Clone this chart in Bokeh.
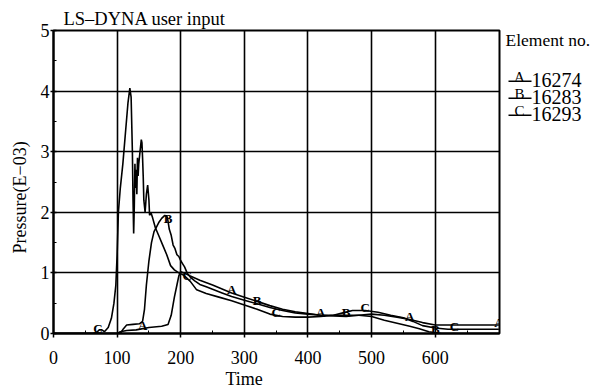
import numpy as np
from bokeh.plotting import figure
from bokeh.models import FixedTicker, Range1d, Title
from bokeh.layouts import row
from bokeh.core.properties import value
from bokeh.embed import file_html
from bokeh.resources import INLINE

# ---------------- data ----------------
x_ticks = [0, 100, 200, 300, 400, 500, 600]
y_ticks = [0, 1, 2, 3, 4, 5]

# Element A (16274) - latest rising curve
x_a = [0, 100, 105, 115, 130, 150, 170, 180, 185, 190, 194, 197, 200, 205, 215, 230, 250,
       280, 300, 320, 340, 360, 380, 400, 420, 440, 460, 480, 500, 520, 540, 560, 580, 600,
       650, 700]
y_a = [0, 0, 0.03, 0.05, 0.06, 0.1, 0.12, 0.15, 0.3, 0.6, 0.8, 0.95, 1.02, 1.0, 0.95, 0.88,
       0.8, 0.67, 0.6, 0.53, 0.46, 0.4, 0.36, 0.33, 0.3, 0.29, 0.28, 0.3, 0.32, 0.3, 0.27,
       0.23, 0.18, 0.14, 0.14, 0.14]

# Element B (16283) - middle curve
x_b = [0, 105, 110, 115, 125, 135, 140, 143, 146, 150, 154, 158, 162, 166, 170, 175, 179,
       182, 185, 188, 191, 194, 197, 200, 203, 206, 210, 215, 222, 230, 240, 250, 265, 280,
       300, 320, 340, 360, 380, 400, 420, 440, 460, 480, 500, 520, 540, 560, 575, 590, 610,
       650, 700]
y_b = [0, 0, 0.08, 0.14, 0.15, 0.16, 0.2, 0.4, 0.8, 1.2, 1.5, 1.68, 1.76, 1.84, 1.9, 1.95,
       1.92, 1.72, 1.62, 1.46, 1.4, 1.3, 1.27, 1.2, 1.15, 1.1, 1.0, 0.93, 0.87, 0.81, 0.77,
       0.73, 0.67, 0.61, 0.55, 0.49, 0.43, 0.38, 0.34, 0.32, 0.3, 0.3, 0.3, 0.3, 0.28, 0.22,
       0.17, 0.12, 0.08, 0.03, 0.0, 0.0, 0.0]

# Element C (16293) - earliest curve with the 4.1 peak
x_c = [0, 62, 68, 72, 76, 80, 86, 91, 95, 98, 100, 102, 105, 109, 113, 117, 120, 122, 124,
       125, 126, 127, 128, 129, 130, 131, 132, 133, 134, 136, 138, 139, 140, 141, 142, 144,
       146, 148, 150, 151, 153, 156, 160, 166, 172, 178, 184, 190, 197, 205, 215, 225, 240,
       260, 280, 300, 320, 340, 360, 380, 400, 420, 440, 455, 470, 490, 510, 530, 550, 565,
       580, 600, 620, 650, 700]
y_c = [0, 0, 0.02, 0.06, 0.06, 0.03, 0.1, 0.25, 0.5, 0.8, 1.3, 2.0, 2.4, 2.8, 3.3, 3.8,
       4.05, 3.9, 3.0, 2.2, 1.65, 2.1, 2.8, 2.4, 2.7, 2.3, 2.9, 2.6, 2.8, 3.0, 3.2, 3.15,
       2.9, 2.6, 2.2, 2.0, 2.3, 2.45, 2.2, 1.95, 2.0, 1.9, 1.75, 1.6, 1.45, 1.3, 1.12, 1.05,
       1.0, 0.96, 0.86, 0.72, 0.66, 0.6, 0.54, 0.47, 0.4, 0.32, 0.28, 0.27, 0.27, 0.28, 0.3,
       0.34, 0.38, 0.38, 0.35, 0.3, 0.26, 0.2, 0.13, 0.09, 0.07, 0.07, 0.07]

marks_a = [140, 280, 420, 560, 700]
marks_b = [180, 320, 460, 600]
marks_c = [70, 210, 350, 490, 630]

names = ["A", "B", "C"]
elements = ["16274", "16283", "16293"]
legend_title = "Element no."

# ---------------- main figure ----------------
SERIF = "Liberation Serif"
H = 388
TOP = 30
BOTTOM_PANEL = 54
p = figure(width=503, height=H, output_backend="svg", toolbar_location=None,
           title=None, x_range=Range1d(0, 701), y_range=Range1d(0, 5),
           min_border_left=53, min_border_right=4, min_border_top=TOP,
           min_border_bottom=BOTTOM_PANEL)
p.background_fill_color = "white"
p.border_fill_color = "white"
p.outline_line_color = "black"
p.outline_line_width = 2

for ax in (p.xaxis[0], p.yaxis[0]):
    ax.axis_line_color = "black"
    ax.axis_line_width = 2
    ax.major_tick_line_color = "black"
    ax.major_tick_line_width = 1.5
    ax.minor_tick_line_color = "black"
    ax.minor_tick_in = 3
    ax.minor_tick_out = 0
    ax.major_label_text_font = SERIF
    ax.major_label_text_font_size = "18px"
    ax.major_label_text_color = "black"

p.xaxis.ticker = FixedTicker(ticks=x_ticks, minor_ticks=[50, 150, 250, 350, 450, 550, 650])
p.yaxis.ticker = FixedTicker(ticks=y_ticks, minor_ticks=[0.5, 1.5, 2.5, 3.5, 4.5])
p.xaxis.major_tick_in = 0
p.xaxis.major_tick_out = 4
p.xaxis.major_label_standoff = 13
p.yaxis.major_tick_in = 3
p.yaxis.major_tick_out = 3
p.yaxis.major_label_standoff = 1

p.xgrid.ticker = FixedTicker(ticks=x_ticks)
p.ygrid.ticker = FixedTicker(ticks=y_ticks)
for g in (p.xgrid[0], p.ygrid[0]):
    g.grid_line_color = "black"
    g.grid_line_width = 1.6
    g.grid_line_alpha = 1.0

for xs, ys in ((x_a, y_a), (x_b, y_b), (x_c, y_c)):
    p.line(xs, ys, line_color="black", line_width=1.6)

for nm, mk, xs, ys in zip(names, (marks_a, marks_b, marks_c),
                          (x_a, x_b, x_c), (y_a, y_b, y_c)):
    my = np.interp(mk, xs, ys)
    p.text(x=mk, y=list(my), text=[nm] * len(mk), text_font=value(SERIF),
           text_font_size="13px", text_font_style="bold", text_align="center",
           text_baseline="middle", y_offset=-3, text_color="black")

p.add_layout(Title(text="LS\u2013DYNA user input", align="left", offset=10, standoff=3,
                   text_font=SERIF, text_font_size="18.5px", text_font_style="normal",
                   text_color="black"), "above")
p.add_layout(Title(text="Time", align="left", offset=172, standoff=0,
                   text_font=SERIF, text_font_size="18px", text_font_style="normal",
                   text_color="black"), "below")
p.add_layout(Title(text="Pressure(E\u221203)", align="left", offset=80, standoff=15,
                   text_font=SERIF, text_font_size="18px", text_font_style="normal",
                   text_color="black"), "left")

# ---------------- legend panel (page-pixel coordinates) ----------------
FB = H - BOTTOM_PANEL
SHIFT = 8
q = figure(width=92, height=H, output_backend="svg", toolbar_location=None,
           title=None, x_range=Range1d(0, 92), y_range=Range1d(FB, TOP),
           min_border_left=0, min_border_right=0, min_border_top=TOP,
           min_border_bottom=BOTTOM_PANEL, x_axis_type=None, y_axis_type=None)
q.grid.visible = False
q.outline_line_color = None
q.background_fill_color = "white"
q.border_fill_color = "white"

q.text(x=[2], y=[48 - SHIFT], text=[legend_title], text_font=value(SERIF),
       text_font_size="17.5px", text_align="left", text_baseline="alphabetic",
       text_color="black")
row_base = [86 - SHIFT + 17 * i for i in range(len(names))]
q.text(x=[16] * len(names), y=[b - 1 for b in row_base], text=names,
       text_font=value(SERIF), text_font_size="15px", text_align="center",
       text_baseline="alphabetic", text_color="black")
q.segment(x0=[5] * len(names), y0=[b + 3 for b in row_base], x1=[28] * len(names),
          y1=[b + 3 for b in row_base], line_color="black", line_width=1.5)
q.text(x=[28] * len(names), y=[b + 2 for b in row_base], text=elements,
       text_font=value(SERIF), text_font_size="20px", text_align="left",
       text_baseline="alphabetic", text_color="black")

layout = row(p, q, spacing=0)
open("out.html", "w").write(file_html(layout, INLINE))
